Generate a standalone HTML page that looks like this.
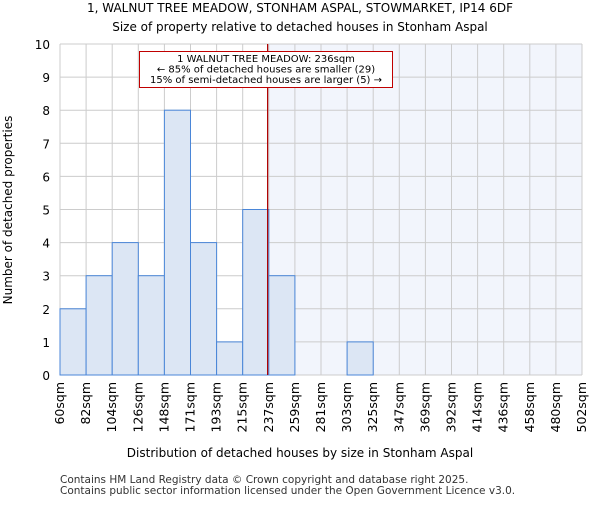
<!DOCTYPE html>
<html><head><meta charset="utf-8"><style>
body{margin:0;background:#fff}
svg{font-family:"DejaVu Sans","Liberation Sans",sans-serif}
</style></head><body>
<svg id="c" width="600" height="500" xmlns="http://www.w3.org/2000/svg">
<text x="300" y="12" text-anchor="middle" font-size="12">1, WALNUT TREE MEADOW, STONHAM ASPAL, STOWMARKET, IP14 6DF</text>
<text x="300" y="31" text-anchor="middle" font-size="12">Size of property relative to detached houses in Stonham Aspal</text>
<g id="plot"></g>
<text x="300" y="457" text-anchor="middle" font-size="12">Distribution of detached houses by size in Stonham Aspal</text>
<text transform="translate(12,210) rotate(-90)" text-anchor="middle" font-size="12">Number of detached properties</text>
<text x="60" y="483" font-size="10.5" fill="#333">Contains HM Land Registry data © Crown copyright and database right 2025.</text>
<text x="60" y="494" font-size="10.5" fill="#333">Contains public sector information licensed under the Open Government Licence v3.0.</text>
</svg>
<script>
const binLabels=["60sqm","82sqm","104sqm","126sqm","148sqm","171sqm","193sqm","215sqm","237sqm","259sqm","281sqm","303sqm","325sqm","347sqm","369sqm","392sqm","414sqm","436sqm","458sqm","480sqm","502sqm"];
const binEdges=[60,82,104,126,148,171,193,215,237,259,281,303,325,347,369,392,414,436,458,480,502];
const counts=[2,3,4,3,8,4,1,5,3,0,0,1,0,0,0,0,0,0,0,0];
const yTicks=[0,1,2,3,4,5,6,7,8,9,10];
const markerValue=236;
const NS="http://www.w3.org/2000/svg";
const X0=60,X1=582,Y0=375,Y1=44,nb=counts.length;
const xi=i=>X0+i*(X1-X0)/nb;
const xv=v=>{let i=0;while(i<nb-1&&v>binEdges[i+1])i++;return xi(i)+(v-binEdges[i])/(binEdges[i+1]-binEdges[i])*(X1-X0)/nb;};
const y=v=>Y0+(Y1-Y0)*v/10;
const g=document.getElementById('plot');
function mk(t,a){const e=document.createElementNS(NS,t);for(const k in a)e.setAttribute(k,a[k]);g.appendChild(e);return e;}
const mx=xv(markerValue);
let e=mk('rect',{x:mx,y:Y1,width:X1-mx,height:Y0-Y1,fill:'#f2f5fc'});


yTicks.forEach(t=>{
 let l=mk('line',{x1:X0,x2:X1,y1:y(t),y2:y(t),stroke:'#ccc'});
 
 
 let tx=mk('text',{x:X0-10,y:y(t)+5,'text-anchor':'end','font-size':'12'});
 tx.textContent=t;
 
 
});
binLabels.forEach((s,i)=>{
 let l=mk('line',{x1:xi(i),x2:xi(i),y1:Y1,y2:Y0,stroke:'#ccc'});
 
 
 let tx=mk('text',{transform:`translate(${xi(i)+4},382) rotate(-90)`,'text-anchor':'end','font-size':'12.5'});
 tx.textContent=s;
 
 
});
counts.forEach((c,i)=>{
 if(!c)return;
 let r=mk('rect',{x:xi(i),y:y(c),width:xi(i+1)-xi(i),height:Y0-y(c),fill:'#dce6f4',stroke:'#4a86d8','stroke-width':1});
 
 
});
e=mk('line',{x1:mx,x2:mx,y1:Y1,y2:Y0,stroke:'#b00000','stroke-width':1.2});


e=mk('rect',{x:139.5,y:51.5,width:253,height:36,fill:'#fff',stroke:'#c00000'});


["1 WALNUT TREE MEADOW: 236sqm","← 85% of detached houses are smaller (29)","15% of semi-detached houses are larger (5) →"].forEach((s,i)=>{
 let t=mk('text',{x:266,y:62+i*10.5,'text-anchor':'middle','font-size':'10'});
 t.textContent=s;
 
 
});
</script>
</body></html>
